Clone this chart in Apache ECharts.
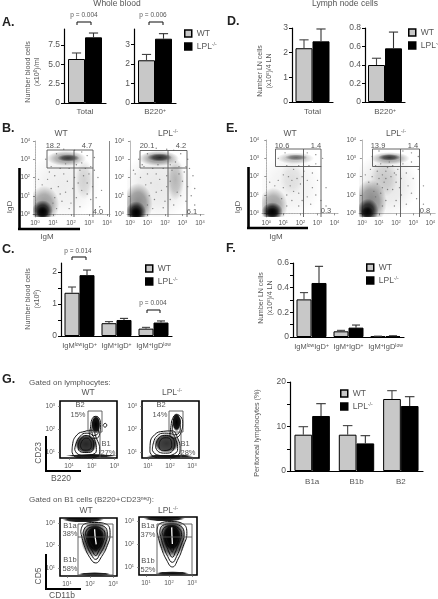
<!DOCTYPE html>
<html><head><meta charset="utf-8">
<style>html,body{margin:0;padding:0;background:#fff}#c{width:438px;height:599px}</style>
<script src="https://cdn.jsdelivr.net/npm/echarts@6/dist/echarts.min.js"></script>
</head><body><div id="c"></div>
<script>
// ---- bar values ----
const aCats1=["Total"], aWt1=[5.69], aWtTop1=[6.47], aLpl1=[8.49], aLplTop1=[9.05];
const aCats2=["B220{s|+}"], aWt2=[2.2], aWtTop2=[2.5], aLpl2=[3.31], aLplTop2=[3.57];
const dCats1=["Total"], dWt1=[2.18], dWtTop1=[2.52], dLpl1=[2.46], dLplTop1=[2.96];
const dCats2=["B220{s|+}"], dWt2=[0.40], dWtTop2=[0.473], dLpl2=[0.58], dLplTop2=[0.756];
const cCats=["IgM{s|low}IgD{s|+}","IgM{s|+}IgD{s|+}","IgM{s|+}IgD{s|low}"];
const cWt=[1.35,0.40,0.23], cWtTop=[1.53,0.45,0.27], cLpl=[1.90,0.50,0.42], cLplTop=[2.06,0.55,0.47];
const fCats=["IgM{s|low}IgD{s|+}","IgM{s|+}IgD{s|+}","IgM{s|+}IgD{s|low}"];
const fWt=[0.305,0.046,0.005], fWtTop=[0.36,0.054,0.007], fLpl=[0.438,0.076,0.008], fLplTop=[0.573,0.097,0.010];
const gCats=["B1a","B1b","B2"];
const gWt=[8.16,8.16,16.18], gWtTop=[9.96,10.2,18.05], gLpl=[12.36,6.2,14.6], gLplTop=[15.13,7.94,16.7];

// ---- flow cytometry: density blobs [log IgM, log IgD, spreadX, spreadY, density] ----
const bWtBlobs=[[1.6,1.6,2.0,1.9,.07],[.5,.5,.85,1.05,.4],[.42,.18,.58,.58,.95],[.42,.1,.33,.33,.85],
 [1.75,3.05,1.1,.42,.38],[1.85,3.07,.62,.2,.65],[2.75,1.9,.5,1.1,.14]];
const bLplBlobs=[[1.6,1.6,2.0,1.9,.09],[.45,.55,.85,1.15,.45],[.35,.1,.58,.6,.95],[.35,.05,.33,.35,.85],
 [1.65,3.05,1.15,.42,.42],[1.7,3.1,.7,.22,.72],[2.6,1.9,.5,1.15,.24]];
const eWtBlobs=[[1.4,1.5,1.9,1.8,.06],[.4,.4,.85,1.0,.38],[.35,.1,.62,.5,.95],[.35,.05,.38,.28,.8],
 [1.7,3.0,1.1,.32,.26],[1.75,3.05,.65,.16,.45],[1.5,1.9,.7,.9,.08]];
const eLplBlobs=[[1.4,1.6,1.9,1.8,.1],[.5,.6,.95,1.25,.45],[.35,.15,.62,.65,.9],[.3,.05,.38,.32,.8],
 [1.65,3.0,1.15,.34,.36],[1.6,3.05,.65,.18,.68],[1.3,1.9,.8,1.0,.14]];
// ---- single events seen outside the dense clouds [log IgM, log IgD] ----
const bWtEvents=[[1.2,.3],[1.5,.7],[1.1,.9],[1.4,1.1],[.9,1.4],[1.3,1.5],[1.7,1.2],[2.0,.6],[2.3,.9],[2.1,1.4],[1.8,1.8],[2.4,1.7],[2.6,1.3],[2.9,1.1],[3.1,.8],[2.7,2.1],[2.9,1.7],[3.0,2.2],[2.5,2.4],[3.2,1.5],[3.4,.9],[2.2,2.0],[1.6,2.2],[1.1,2.1],[.7,1.9],[1.4,2.5],[.9,2.6],[1.9,2.5],[2.8,2.5],[3.1,2.6],[1.2,3.3],[2.6,3.4],[2.9,3.2],[.6,3.0],[1.6,3.55],[2.2,3.5],[3.3,3.1],[.4,1.6],[.2,1.9],[1.0,.6],[1.9,.3],[2.5,.4],[3.6,.4],[3.7,1.3],[3.5,2.0],[.8,2.3],[2.3,2.7],[1.7,2.75],[2.6,2.8],[3.3,2.4]];
const bLplEvents=[[1.3,.3],[1.4,.8],[1.1,1.0],[1.5,1.2],[.9,1.6],[1.2,1.7],[1.8,1.3],[2.0,.7],[2.3,.8],[2.1,1.5],[1.7,1.9],[2.3,1.8],[2.7,1.2],[2.9,1.0],[3.2,.7],[2.8,2.2],[3.0,1.8],[3.1,2.3],[2.4,2.4],[3.3,1.5],[3.5,1.0],[2.1,2.1],[1.5,2.2],[1.0,2.2],[.6,2.0],[1.3,2.5],[.8,2.6],[1.9,2.5],[2.8,2.6],[3.2,2.6],[1.0,3.3],[2.5,3.5],[2.9,3.3],[.5,3.0],[1.5,3.6],[2.1,3.55],[3.3,3.0],[.3,2.2],[.2,2.4],[1.0,.5],[1.9,.35],[2.5,.5],[3.7,.5],[3.7,1.4],[3.6,2.1],[.7,2.7],[2.3,2.7],[1.6,2.7],[2.6,2.85],[3.4,2.5]];
const eWtEvents=[[1.2,.4],[1.5,.7],[1.2,1.0],[1.6,1.2],[1.0,1.4],[1.4,1.5],[1.9,1.1],[2.1,.7],[2.4,.9],[2.0,1.6],[1.8,1.9],[2.4,1.8],[2.7,1.4],[2.9,1.0],[3.2,.7],[2.7,2.2],[3.0,1.8],[1.3,2.0],[2.2,2.3],[1.6,2.4],[1.0,2.1],[.7,1.8],[1.2,2.6],[1.9,2.6],[2.5,2.6],[2.9,2.7],[1.1,3.3],[2.4,3.3],[2.9,3.2],[.7,3.0],[3.3,3.0],[.5,1.5],[.2,1.7],[.9,.8],[1.9,.4],[2.6,.5],[3.5,.4],[3.5,1.4],[1.5,1.8],[2.1,2.0]];
const eLplEvents=[[1.2,.4],[1.4,.7],[1.1,1.1],[1.5,1.3],[.9,1.6],[1.3,1.7],[1.8,1.3],[2.0,.7],[2.3,1.0],[2.0,1.7],[1.7,2.0],[2.3,1.9],[2.7,1.5],[2.9,1.1],[3.2,.8],[2.6,2.2],[3.0,1.9],[1.2,2.1],[2.1,2.4],[1.5,2.5],[.9,2.3],[.6,2.0],[1.1,2.7],[1.8,2.6],[2.4,2.7],[2.9,2.8],[1.0,3.4],[2.4,3.4],[2.9,3.3],[.6,3.1],[3.3,3.1],[.4,1.7],[.2,2.1],[.8,.9],[1.9,.4],[2.6,.5],[3.6,.5],[3.6,1.5],[1.4,1.9],[2.0,2.1],[.8,2.6],[1.6,2.8],[1.2,1.4],[.7,1.2],[.5,2.4],[2.2,1.4],[1.0,1.9],[1.4,2.3],[1.9,2.2],[3.3,2.4]];

// ---- contour gates G: closed curves in log units ----
const g1Contours=[
 [[1.13,1.0],[1.15,1.3],[1.35,1.75],[1.7,1.9],[2.0,1.95],[2.2,1.6],[2.35,1.1],[2.3,.85],[1.8,.75],[1.3,.78]],
 [[1.25,1.1],[1.3,1.35],[1.5,1.7],[1.75,1.82],[2.0,1.75],[2.15,1.45],[2.2,1.1],[2.1,.92],[1.7,.85],[1.4,.9]],
 [[1.4,1.25],[1.5,1.55],[1.75,1.72],[1.98,1.6],[2.08,1.35],[2.05,1.08],[1.75,.98],[1.48,1.02]],
 [[1.5,1.3],[1.6,1.52],[1.78,1.6],[1.93,1.5],[1.98,1.3],[1.9,1.12],[1.7,1.08],[1.55,1.15]],
 [[1.9,1.75],[1.95,2.1],[2.0,2.4],[2.15,2.55],[2.3,2.5],[2.38,2.2],[2.35,1.8],[2.2,1.6],[2.0,1.6]],
 [[2.0,1.9],[2.03,2.2],[2.1,2.4],[2.2,2.45],[2.3,2.3],[2.3,2.0],[2.22,1.75],[2.08,1.72]],
 [[2.5,2.15],[2.58,2.25],[2.66,2.17],[2.58,2.08]]];
const g1Blobs=[[1.75,1.35,.5,.42,.85],[2.18,2.2,.2,.4,1],[2.0,.84,1.15,.07,.95]];
const g2Contours=[
 [[1.09,1.0],[1.1,1.35],[1.3,1.75],[1.7,1.9],[2.1,1.92],[2.35,1.6],[2.46,1.15],[2.35,.85],[1.8,.74],[1.3,.78]],
 [[1.2,1.08],[1.25,1.4],[1.42,1.7],[1.75,1.82],[2.1,1.78],[2.28,1.5],[2.35,1.15],[2.2,.92],[1.8,.84],[1.4,.88]],
 [[1.35,1.2],[1.45,1.55],[1.75,1.72],[2.08,1.65],[2.2,1.35],[2.12,1.05],[1.8,.95],[1.5,1.0]],
 [[1.5,1.28],[1.6,1.55],[1.85,1.62],[2.05,1.5],[2.08,1.28],[1.95,1.1],[1.7,1.06],[1.55,1.12]],
 [[2.0,1.7],[2.05,2.15],[2.12,2.45],[2.28,2.62],[2.48,2.55],[2.58,2.25],[2.5,1.85],[2.35,1.65],[2.15,1.6]],
 [[2.1,1.9],[2.14,2.25],[2.22,2.48],[2.35,2.52],[2.47,2.35],[2.47,2.05],[2.35,1.78],[2.2,1.75]]];
const g2Blobs=[[1.85,1.38,.58,.42,.8],[2.3,2.3,.2,.4,1],[2.0,.82,1.1,.07,.95]];
const g3Contours=[
 [[1.6,2.6],[1.75,2.95],[2.2,3.02],[2.7,2.95],[2.87,2.5],[2.75,2.0],[2.5,1.5],[2.25,1.22],[2.0,1.45],[1.75,2.0]],
 [[1.7,2.55],[1.85,2.85],[2.2,2.92],[2.6,2.85],[2.75,2.5],[2.65,2.05],[2.42,1.6],[2.25,1.38],[2.05,1.6],[1.85,2.05]],
 [[1.8,2.55],[1.95,2.78],[2.2,2.82],[2.5,2.75],[2.65,2.5],[2.55,2.1],[2.38,1.75],[2.25,1.55],[2.1,1.75],[1.92,2.1]],
 [[1.9,2.5],[2.0,2.7],[2.2,2.74],[2.42,2.68],[2.55,2.45],[2.45,2.15],[2.33,1.9],[2.25,1.75],[2.15,1.9],[2.0,2.15]]];
const g3Blobs=[[2.22,2.28,.62,.82,.7],[2.22,2.3,.42,.62,1],[1.7,3.15,.9,.13,.95],[2.2,.72,.7,.09,.95]];
const g4Contours=[
 [[1.48,2.55],[1.6,2.88],[2.1,2.97],[2.6,2.88],[2.78,2.45],[2.62,1.9],[2.4,1.35],[2.15,1.0],[1.9,1.3],[1.65,1.9]],
 [[1.6,2.5],[1.72,2.8],[2.1,2.87],[2.5,2.78],[2.66,2.42],[2.52,1.92],[2.33,1.45],[2.15,1.2],[1.95,1.45],[1.75,1.95]],
 [[1.7,2.5],[1.82,2.72],[2.1,2.78],[2.4,2.7],[2.55,2.4],[2.42,2.0],[2.28,1.65],[2.15,1.42],[2.0,1.65],[1.85,2.05]],
 [[1.82,2.45],[1.92,2.65],[2.1,2.7],[2.32,2.62],[2.44,2.38],[2.34,2.1],[2.22,1.85],[2.15,1.65],[2.05,1.85],[1.92,2.12]]];
const g4Blobs=[[2.13,2.25,.62,.85,.7],[2.13,2.3,.42,.62,1],[1.8,3.1,.9,.12,.95],[2.15,.72,.72,.09,.95]];
const g3Slit=[[2.2,2.72],[2.22,2.4],[2.27,2.05]];
const g4Slit=[[2.12,2.72],[2.13,2.4],[2.15,2.0]];

const font='"Liberation Sans",Arial,sans-serif', ink='#555';
const sup={s:{fontSize:5,verticalAlign:'top',fontFamily:font,color:ink}};
const grid=[],xAxis=[],yAxis=[],series=[];

function errSeries(idx,vals,tops,side,barW,color){
  return {type:'custom',xAxisIndex:idx,yAxisIndex:idx,silent:true,z:4,
   encode:{x:0,y:[1,2]},
   data:vals.map((v,i)=>[i,v,tops[i]]),
   renderItem(p,api){
     const a=api.coord([api.value(0),api.value(1)]),b=api.coord([api.value(0),api.value(2)]);
     const x=a[0]+side*barW/2, capH=barW*0.27, st={stroke:color,lineWidth:1.1};
     return {type:'group',children:[
       {type:'line',shape:{x1:x,y1:a[1],x2:x,y2:b[1]},style:st},
       {type:'line',shape:{x1:x-capH,y1:b[1],x2:x+capH,y2:b[1]},style:st}]};
   }};
}
function barPanel(o){
  const idx=grid.length;
  grid.push({left:o.l,top:o.t,width:o.w,height:o.h});
  xAxis.push({gridIndex:idx,type:'category',data:o.cats,axisTick:{show:false},
    axisLine:{lineStyle:{color:'#000',width:1.2}},
    axisLabel:{interval:0,fontSize:o.xfs||8,color:ink,fontFamily:font,margin:o.xm||5,rich:sup}});
  yAxis.push({gridIndex:idx,type:'value',min:0,max:o.max,splitLine:{show:false},
    axisLine:{show:true,lineStyle:{color:'#000',width:1.2}},
    axisTick:{show:true,length:3,inside:false,lineStyle:{color:'#000'},customValues:o.ticks},
    axisLabel:{fontSize:8.5,color:ink,fontFamily:font,margin:4,customValues:o.labels,
      formatter:v=>o.fmt?o.fmt(v):String(v)}});
  series.push({name:'WT',type:'bar',xAxisIndex:idx,yAxisIndex:idx,data:o.wt,barWidth:o.bw,barGap:0,
      itemStyle:{color:'#c8c8c8',borderColor:'#000',borderWidth:1}});
  series.push({name:'LPL',type:'bar',xAxisIndex:idx,yAxisIndex:idx,data:o.lpl,barWidth:o.bw,barGap:0,
      itemStyle:{color:'#000',borderColor:'#000',borderWidth:1}});
  series.push(errSeries(idx,o.wt,o.wtTop,-1,o.bw,'#444'));
  series.push(errSeries(idx,o.lpl,o.lplTop,1,o.bw,'#333'));
}
function flowPanel(o){
  const idx=grid.length;
  grid.push({left:o.l,top:o.t,width:o.w,height:o.h,show:!!o.frame,borderColor:'#000',borderWidth:1.6,backgroundColor:'transparent'});
  const tick10=v=>'10{s|'+v+'}';
  const base={axisTick:{show:true,length:2,lineStyle:{color:'#666',width:.7},customValues:o.ticks},
     splitLine:{show:false},
     axisLabel:{fontSize:6.5,color:ink,fontFamily:font,margin:o.frame?5:3,customValues:o.ticks,formatter:tick10,
       rich:{s:{fontSize:4,verticalAlign:'top',color:ink}}},
     axisLine:{show:!o.frame,lineStyle:{color:o.lineColor||'#999',width:o.lineW||.8,type:o.lineType||'dotted'}}};
  xAxis.push(Object.assign({gridIndex:idx,type:'value',min:o.x[0],max:o.x[1]},base));
  yAxis.push(Object.assign({gridIndex:idx,type:'value',min:o.y[0],max:o.y[1]},base));
  const mid=o.frame?.75:.55, midA=o.frame?.9:.72;
  series.push({type:'custom',xAxisIndex:idx,yAxisIndex:idx,silent:true,clip:true,z:3,
    encode:{x:0,y:1},data:o.blobs,
    renderItem(p,api){
      const c=api.coord([api.value(0),api.value(1)]),s=api.size([api.value(2),api.value(3)]),d=api.value(4);
      return {type:'circle',x:c[0],y:c[1],scaleX:s[0],scaleY:s[1],shape:{cx:0,cy:0,r:1},
        style:{fill:{type:'radial',x:.5,y:.5,r:.5,colorStops:[
          {offset:0,color:`rgba(0,0,0,${d})`},{offset:mid,color:`rgba(0,0,0,${d*midA})`},{offset:1,color:'rgba(0,0,0,0)'}]}}};
    }});
  if(o.events) series.push({type:'scatter',xAxisIndex:idx,yAxisIndex:idx,data:o.events,symbolSize:1.4,silent:true,z:4,
    itemStyle:{color:'#666'}});
  (o.contours||[]).forEach(c=>series.push({type:'line',xAxisIndex:idx,yAxisIndex:idx,data:c.concat([c[0]]),
    smooth:.5,symbol:'none',silent:true,z:4,lineStyle:{color:'#111',width:1}}));
  if(o.slit) series.push({type:'line',xAxisIndex:idx,yAxisIndex:idx,data:o.slit,symbol:'none',silent:true,z:5,
    lineStyle:{color:'#fff',width:1.3}});
}

barPanel({l:64,t:29,w:42,h:74,max:9.57,cats:aCats1,wt:aWt1,wtTop:aWtTop1,lpl:aLpl1,lplTop:aLplTop1,bw:17,
  ticks:[0,2.5,5,7.5],labels:[0,2.5,5,7.5],fmt:v=>v===0?'0':v.toFixed(1)});
barPanel({l:134,t:29,w:42,h:74,max:3.81,cats:aCats2,wt:aWt2,wtTop:aWtTop2,lpl:aLpl2,lplTop:aLplTop2,bw:17,
  ticks:[0,1,2,3],labels:[0,1,2,3]});
barPanel({l:292,t:28,w:41,h:74,max:3,cats:dCats1,wt:dWt1,wtTop:dWtTop1,lpl:dLpl1,lplTop:dLplTop1,bw:17,xm:6,
  ticks:[0,1,2,3],labels:[0,1,2,3]});
barPanel({l:365,t:28,w:40,h:74,max:.8,cats:dCats2,wt:dWt2,wtTop:dWtTop2,lpl:dLpl2,lplTop:dLplTop2,bw:17,xm:6,
  ticks:[0,.2,.4,.6,.8],labels:[0,.2,.4,.6,.8]});
barPanel({l:61,t:263,w:111,h:73,max:2.28,cats:cCats,wt:cWt,wtTop:cWtTop,lpl:cLpl,lplTop:cLplTop,bw:15,xfs:7.5,xm:6,
  ticks:[0,.5,1,1.5,2],labels:[0,1,2]});
barPanel({l:293,t:263,w:111,h:74,max:.6,cats:fCats,wt:fWt,wtTop:fWtTop,lpl:fLpl,lplTop:fLplTop,bw:15,xfs:7.5,xm:6,
  ticks:[0,.1,.2,.3,.4,.5,.6],labels:[0,.2,.4,.6]});
barPanel({l:290,t:382,w:133,h:89,max:20,cats:gCats,wt:gWt,wtTop:gWtTop,lpl:gLpl,lplTop:gLplTop,bw:17.7,xm:7,
  ticks:[0,5,10,15,20],labels:[0,10,20]});

flowPanel({l:33,t:141,w:77,h:76,x:[-.11,4.17],y:[-.16,4],ticks:[0,1,2,3,4],blobs:bWtBlobs,events:bWtEvents});
flowPanel({l:127,t:141,w:77,h:76,x:[-.17,4.23],y:[-.16,4],ticks:[0,1,2,3,4],blobs:bLplBlobs,events:bLplEvents,lineType:'solid',lineColor:'#aaa'});
flowPanel({l:262,t:140,w:76,h:77,x:[-.25,4.2],y:[-.2,4],ticks:[0,1,2,3,4],blobs:eWtBlobs,events:eWtEvents});
flowPanel({l:359,t:140,w:78,h:77,x:[-.17,4.29],y:[-.2,4],ticks:[0,1,2,3,4],blobs:eLplBlobs,events:eLplEvents,lineType:'solid',lineColor:'#aaa'});
flowPanel({l:60,t:401,w:57,h:57,x:[.6,3.11],y:[.74,3.22],ticks:[1,2,3],blobs:g1Blobs,contours:g1Contours,frame:true});
flowPanel({l:142,t:401,w:57,h:57,x:[.73,3.32],y:[.74,3.22],ticks:[1,2,3],blobs:g2Blobs,contours:g2Contours,frame:true});
flowPanel({l:60,t:518,w:57,h:58,x:[.7,3.17],y:[.64,3.22],ticks:[1,2,3],blobs:g3Blobs,contours:g3Contours,slit:g3Slit,frame:true});
flowPanel({l:139,t:517,w:58,h:58,x:[.7,3.22],y:[.65,3.17],ticks:[1,2,3],blobs:g4Blobs,contours:g4Contours,slit:g4Slit,frame:true});

// ---- annotation ----
const g=[];
function T(x,y,text,o={}){g.push({type:'text',x,y,rotation:o.rot?Math.PI/2:0,z:50,silent:true,
  style:{text,fontFamily:font,fontSize:o.fs||7.5,fontWeight:o.w||'normal',fill:o.c||ink,
    align:o.a||'center',verticalAlign:'middle',lineHeight:o.lh,
    rich:{s:{fontSize:(o.fs||7.5)*.62,verticalAlign:'top',fill:o.c||ink,fontFamily:font}}}});}
function L(x1,y1,x2,y2,c='#555',w=.9){g.push({type:'line',silent:true,z:50,shape:{x1,y1,x2,y2},style:{stroke:c,lineWidth:w}});}
function R(x,y,w,h,c='#555',lw=.9){g.push({type:'rect',silent:true,z:50,shape:{x,y,width:w,height:h},style:{fill:'none',stroke:c,lineWidth:lw}});}
function bracket(x1,x2,y){L(x1,y,x2,y,'#222',1.1);L(x1,y,x1,y+3,'#222',1.1);L(x2,y,x2,y+3,'#222',1.1);}

T(117,4,'Whole blood',{fs:8.5}); T(345,4,'Lymph node cells',{fs:8.5});
[['A.',2,23],['B.',2,129],['C.',2,250],['D.',227,22],['E.',226,129],['F.',226,249],['G.',2,380]]
  .forEach(p=>T(p[1],p[2],p[0],{fs:12.5,w:'bold',a:'left',c:'#222'}));
T(84,15,'p = 0.004',{fs:6.5}); bracket(77,91,22);
T(153,15,'p = 0.006',{fs:6.5}); bracket(149,163,22);
T(78,251,'p = 0.014',{fs:6.5}); bracket(72,86,257);
T(153,303,'p = 0.004',{fs:6.5}); bracket(147,160,310);

T(28,72,'Number blood cells',{rot:1,fs:7.2}); T(37.5,72,'(x10{s|6})/ml',{rot:1,fs:7.2});
T(28,299,'Number blood cells',{rot:1,fs:7.2}); T(37.5,299,'(x10{s|6})',{rot:1,fs:7.2});
T(260,71,'Number LN cells',{rot:1,fs:7}); T(269,71,'(x10{s|6})/4 LN',{rot:1,fs:7});
T(261,298,'Number LN cells',{rot:1,fs:7}); T(270,298,'(x10{s|6})/4 LN',{rot:1,fs:7});
T(257,433,'Peritoneal lymphocytes (%)',{rot:1,fs:7.2});

// B
T(61,134,'WT',{fs:8.5}); T(168,134,'LPL{s|-/-}',{fs:8.5});
T(53,146,'18.2'); T(87,146,'4.7'); T(98,212,'4.0');
T(147,146,'20.1'); T(181,146,'4.2'); T(192,212,'6.1');
R(47,150,46,18); L(74,150,74,217); L(93,168,93,217); L(109.5,141,109.5,217,'#888',1);
R(140,150.5,47,17.5); L(168,150.5,168,217); L(187,168,187,217);
L(19.5,168,19.5,230,'#000',2.6); L(18,229,80,229,'#000',2.6);
T(10,207,'IgD',{rot:1,fs:8}); T(47,237,'IgM',{fs:8});
// E
T(290,134,'WT',{fs:8.5}); T(396,134,'LPL{s|-/-}',{fs:8.5});
T(282,145.5,'10.6'); T(316,145.5,'1.4'); T(326,211,'0.3');
T(378,145.5,'13.9'); T(413,145.5,'1.4'); T(425,211,'0.8');
R(275.5,149,45.5,17.5); L(303.5,149,303.5,217); L(321,166,321,217);
R(372.5,149,47,17.5); L(400.5,149,400.5,217); L(419.5,166,419.5,217);
L(248.5,167,248.5,229,'#000',2.6); L(247,228,308,228,'#000',2.6);
T(238,207,'IgD',{rot:1,fs:8}); T(276,237,'IgM',{fs:8});
// G upper
T(29,383,'Gated on lymphocytes:',{fs:8,a:'left'});
T(88,393,'WT',{fs:8.5}); T(172,393,'LPL{s|-/-}',{fs:8.5});
R(88,411,14,21); L(100,432,100,458);
R(169,411,14,21); L(181,432,181,458);
T(80,405,'B2'); T(78,414.5,'15%'); T(106,444,'B1'); T(108,453,'27%');
T(161,405,'B2'); T(160,415,'14%'); T(185,444,'B1'); T(188,453,'28%');
L(46,436,46,472,'#000',2); L(45,471,81,471,'#000',2);
T(39,453,'CD23',{rot:1,fs:8.5}); T(61,479,'B220',{fs:8.5});
// G lower
T(29,500,'Gated on B1 cells (B220+CD23{s|neg}):',{fs:8,a:'left'});
T(86,511,'WT',{fs:8.5}); T(168,511,'LPL{s|-/-}',{fs:8.5});
R(78,524,35,51); L(78,537,113,537);
R(157,524,35,51); L(157,537,192,537);
T(70,526,'B1a'); T(70,534,'38%'); T(70,560,'B1b'); T(70,569,'58%');
T(148,526,'B1a'); T(148,535,'37%'); T(148,561,'B1b'); T(148,570,'52%');
L(46,554,46,590,'#000',2); L(45,589,81,589,'#000',2);
T(39,576,'CD5',{rot:1,fs:8.5}); T(62,596,'CD11b',{fs:8.5});

const legendAt=(left,top)=>({left,top,orient:'vertical',itemWidth:7,itemHeight:7,itemGap:4,selectedMode:false,
  padding:0,icon:'rect',data:['WT','LPL'],itemStyle:{borderColor:'#000',borderWidth:1.5},
  formatter:n=>n==='LPL'?'LPL{s|-/-}':n,
  textStyle:{fontSize:8.5,color:ink,fontFamily:font,rich:sup}});
const legend=[legendAt(184,29),legendAt(408,28),legendAt(145,264),legendAt(366,263),legendAt(340,389)];

echarts.init(document.getElementById('c'),null,{renderer:'canvas'}).setOption({
  animation:false,backgroundColor:'#fff',tooltip:{show:false},
  grid,xAxis,yAxis,series,legend,graphic:{elements:g}
});
</script></body></html>
